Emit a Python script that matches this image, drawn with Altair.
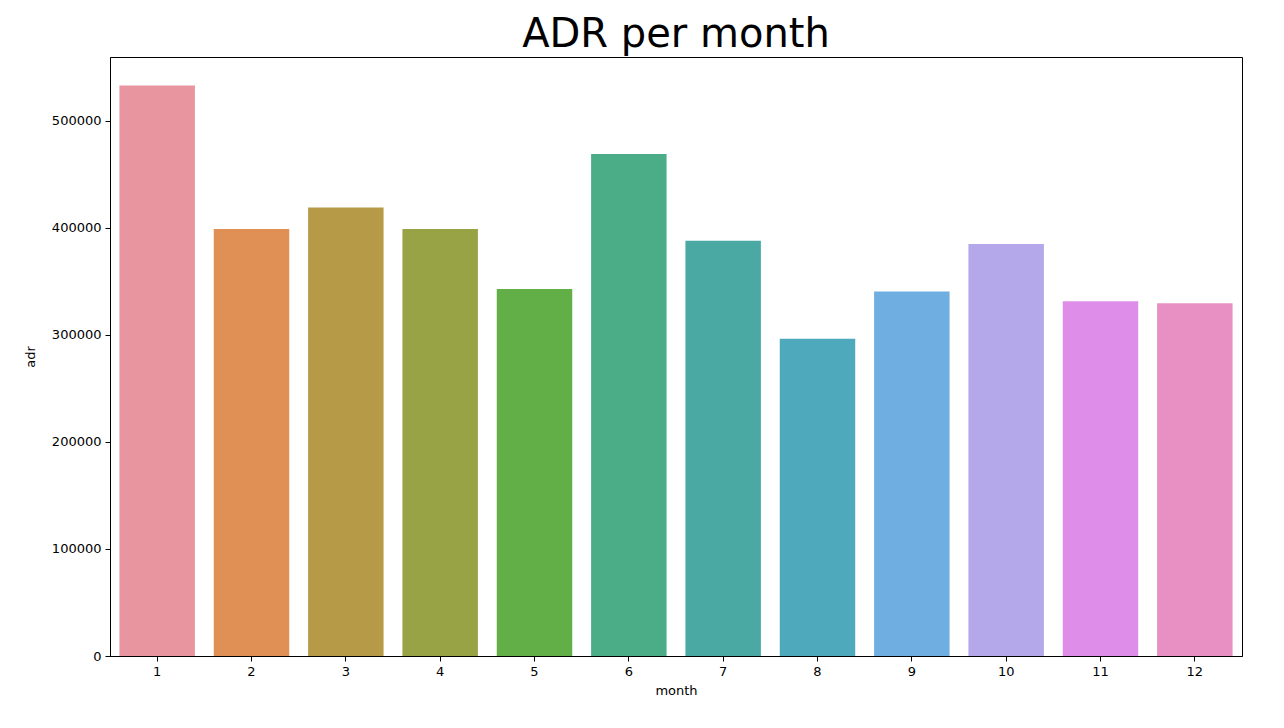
import altair as alt
import pandas as pd

months = [1, 2, 3, 4, 5, 6, 7, 8, 9, 10, 11, 12]
adr = [533000, 399000, 419000, 399000, 343000, 469000, 388000, 296500, 340500, 385000, 331500, 329500]
colors = ["#e8959f", "#e09055", "#b69a48", "#98a346", "#62af47", "#4aad88",
          "#4aaaa3", "#4fa9bc", "#6eaee0", "#b4a8ea", "#de8de8", "#e890c4"]

df = pd.DataFrame({"month": months, "adr": adr})

FONT = "DejaVu Sans"

chart = alt.Chart(df).mark_bar().encode(
    x=alt.X("month:O",
            scale=alt.Scale(paddingInner=0.2, paddingOuter=0.1),
            axis=alt.Axis(title="month", labelAngle=0, labelFontSize=13,
                          titleFontSize=13, titleFontWeight="normal",
                          labelColor="black", titleColor="black",
                          tickColor="black", domainColor="black",
                          tickSize=5, labelPadding=4, titlePadding=6,
                          grid=False)),
    y=alt.Y("adr:Q",
            scale=alt.Scale(domain=[0, 559650], nice=False),
            axis=alt.Axis(title="adr", values=[0, 100000, 200000, 300000, 400000, 500000],
                          format="d", labelFontSize=13, titleFontSize=13,
                          titleFontWeight="normal", labelColor="black",
                          titleColor="black", tickColor="black",
                          domainColor="black", tickSize=5, labelPadding=4,
                          titlePadding=14, grid=False)),
    color=alt.Color("month:O", scale=alt.Scale(domain=months, range=colors), legend=None),
).properties(
    width=1132,
    height=599,
    title=alt.TitleParams("ADR per month", fontSize=40, font=FONT,
                          fontWeight="normal", color="black", offset=2, anchor="middle"),
    autosize=alt.AutoSizeParams(type="none"),
    padding={"left": 110, "top": 57, "right": 42, "bottom": 72},
).configure(
    font=FONT,
    background="white",
).configure_view(
    stroke="black",
    strokeWidth=1,
)

chart.save("out.html", embed_options={"renderer": "svg", "actions": False})
